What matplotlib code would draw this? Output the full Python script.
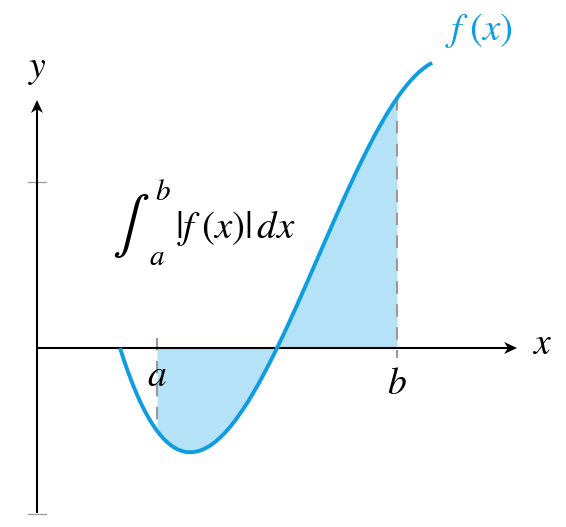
import matplotlib
matplotlib.use("Agg")
import matplotlib.pyplot as plt
import numpy as np
from matplotlib.patches import Polygon

plt.rcParams['mathtext.fontset'] = 'stix'
plt.rcParams['font.family'] = ['STIXGeneral', 'DejaVu Serif']

# f(x) = k (x - r1)(x - r2)(x - r3), roots and scale
F_ROOTS = [0.5, 1.446, 3.146]
F_SCALE = -1.277
X_START, X_END = 0.5, 2.38       # visible part of the curve
A_VAL, B_VAL = 0.723, 2.169      # integration limits
Y_TICKS = [1.0, -1.0]
X_AXIS_END, Y_AXIS_TOP, Y_AXIS_BOTTOM = 2.892, 1.494, -0.994

CURVE = '#0E9DE0'
FILL = '#B5E2F6'
TICK_GREY = '#999999'

UNIT = 166.0  # pixels per data unit (both axes)


def f(x):
    return F_SCALE * (x - F_ROOTS[0]) * (x - F_ROOTS[1]) * (x - F_ROOTS[2])


def px(x, y):
    # pixel position in the 566x527 picture -> data coords
    return (x - 37) / UNIT, (348 - y) / UNIT


def stealth(ax, tip, direction, length=13, width=12):
    d = np.asarray(direction, float)
    n = np.array([-d[1], d[0]])
    tip = np.asarray(tip, float)
    L, W = length / UNIT, width / UNIT / 2
    pts = [tip, tip - L * d + W * n, tip - 0.7 * L * d, tip - L * d - W * n]
    ax.add_patch(Polygon(pts, closed=True, color='black', lw=0, zorder=3))


fig = plt.figure(figsize=(5.66, 5.27), dpi=100)
ax = fig.add_axes([0, 0, 1, 1])
ax.set_xlim(-37 / UNIT, (566 - 37) / UNIT)
ax.set_ylim(-(527 - 348) / UNIT, 348 / UNIT)
ax.set_axis_off()

# axes with stealth heads
ax.plot([0, X_AXIS_END - 8 / UNIT], [0, 0], color='black', lw=1.5, zorder=3,
        solid_capstyle='butt')
ax.plot([0, 0], [Y_AXIS_BOTTOM, Y_AXIS_TOP - 8 / UNIT], color='black', lw=1.5,
        zorder=3, solid_capstyle='butt')
stealth(ax, (X_AXIS_END, 0), (1, 0))
stealth(ax, (0, Y_AXIS_TOP), (0, 1))

# y ticks
for t in Y_TICKS:
    ax.plot([-0.055, 0.055], [t, t], color=TICK_GREY, lw=0.9, zorder=2)

# shaded area |f| between a and b
xs = np.linspace(A_VAL, B_VAL, 300)
ax.fill_between(xs, f(xs), 0, color=FILL, lw=0, zorder=1)

# dashed guides at a and b
dash = (0, (6, 5))
ax.plot([A_VAL, A_VAL], [0.06, f(A_VAL)], color=TICK_GREY, lw=1.5,
        ls=dash, zorder=2)
ax.plot([B_VAL, B_VAL], [f(B_VAL), -0.06], color=TICK_GREY, lw=1.5,
        ls=dash, zorder=2)

# the curve
xc = np.linspace(X_START, X_END, 400)
ax.plot(xc, f(xc), color=CURVE, lw=2.8, solid_capstyle='butt', zorder=4)

fs = 27
ax.text(*px(37, 70), r'$y$', fontsize=fs, ha='center', va='center')
ax.text(*px(542, 345), r'$x$', fontsize=fs, ha='center', va='center')
ax.text(*px(157, 377), r'$a$', fontsize=fs, ha='center', va='center')
ax.text(*px(397, 385), r'$b$', fontsize=fs, ha='center', va='center')
ax.text(*px(479, 30), r'$f\;(x)$', fontsize=28, ha='center', va='center',
        color=CURVE)

# integral label: big sign + limits + integrand
ax.text(*px(131, 226), r'$\int$', fontsize=40, ha='center', va='center')
ax.text(*px(163, 193), r'$b$', fontsize=21, ha='center', va='center')
ax.text(*px(157, 258), r'$a$', fontsize=21, ha='center', va='center')
ax.text(*px(175, 228), r'$|f\;(x)|\,dx$', fontsize=28, ha='left',
        va='center')

fig.savefig('out.png', dpi=100, facecolor='white')
